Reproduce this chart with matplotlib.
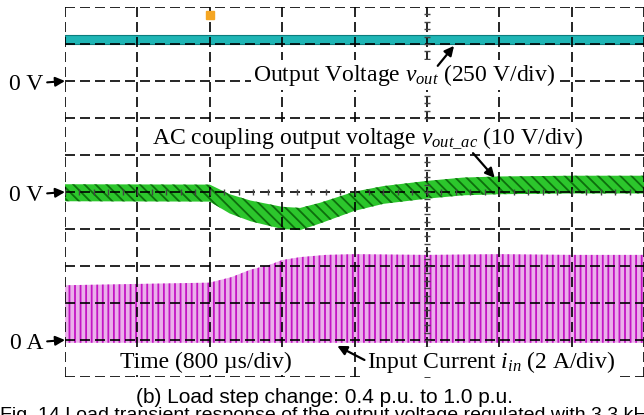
import numpy as np
import matplotlib.pyplot as plt

plt.rcParams['font.family'] = 'Liberation Serif'
plt.rcParams['mathtext.fontset'] = 'custom'
plt.rcParams['mathtext.rm'] = 'Liberation Serif'
plt.rcParams['mathtext.it'] = 'Liberation Serif:italic'
plt.rcParams['hatch.linewidth'] = 1.3

# scope screen: 0.8 ms per division, 10 divisions vertically (8 shown horizontally)
ms_per_div = 0.8
n_xdiv = 8
n_ydiv = 10

# channel zero markers (in divisions) and scales (units per division)
vout_zero, vout_scale = 8.0, 250.0
vac_zero, vac_scale = 5.0, 10.0
iin_zero, iin_scale = 1.0, 2.0

# output voltage (V), thin noisy band
vout_t = [0.0, 6.4]
vout_lo = [250, 250]
vout_hi = [312, 312]

# AC coupled output voltage (V): mean and peak-to-peak ripple
vac_t = [0.0, 1.6, 1.82, 2.05, 2.4, 2.6, 2.82, 3.2, 3.52, 4.0, 4.4, 4.8, 5.6, 6.4]
vac_mid = [-0.2, -0.3, -3.2, -5.1, -7.0, -7.3, -5.7, -2.5, -0.8, 0.6, 1.5, 1.8, 2.0, 2.0]
vac_pp = [4.6, 4.6, 5.2, 5.6, 6.0, 6.0, 5.6, 5.2, 4.8, 4.8, 4.8, 4.8, 4.8, 4.8]

# input current (A): peak envelope and valley
iin_t = [0.0, 1.6, 1.84, 2.05, 2.26, 2.4, 2.6, 2.88, 3.2, 4.0, 4.8, 5.6, 6.4]
iin_peak = [2.96, 3.1, 3.4, 3.8, 4.06, 4.32, 4.48, 4.6, 4.64, 4.6, 4.64, 4.6, 4.6]
iin_valley = [-0.15] * len(iin_t)

trigger_t = 1.6

fig = plt.figure(figsize=(6.44, 4.15), dpi=100)
ax = fig.add_axes([65 / 644, 38 / 415, 579 / 644, 370 / 415])

# cyan trace
ax.fill_between(vout_t, vout_zero + np.array(vout_lo) / vout_scale,
                vout_zero + np.array(vout_hi) / vout_scale,
                facecolor='#1fb5b5', edgecolor='#0b7d7d', linewidth=0.8, zorder=1)

# green trace
mid = np.array(vac_mid)
half = np.array(vac_pp) / 2
ax.fill_between(vac_t, vac_zero + (mid - half) / vac_scale, vac_zero + (mid + half) / vac_scale,
                facecolor='#2cc62c', edgecolor='#0d6e0d', hatch='\\\\\\', linewidth=0, zorder=1)

# magenta trace
ax.fill_between(iin_t, iin_zero + np.array(iin_valley) / iin_scale,
                iin_zero + np.array(iin_peak) / iin_scale,
                facecolor='#eab0ea', edgecolor='#c414c4', hatch='|||', linewidth=0, zorder=1)

# grid over the traces
dash = (0, (6, 3))
for i in range(n_xdiv + 1):
    ax.axvline(i * ms_per_div, color='k', lw=1.2, ls=dash, zorder=2.5)
for j in range(n_ydiv + 1):
    ax.axhline(j, color='k', lw=1.2, ls=dash, zorder=2.5)
# minor ticks on the centre lines
xt = np.arange(0, 6.41, 0.16)
ax.plot(xt, [5] * len(xt), ls='none', marker='|', ms=5, color='#444444', zorder=2.6)
yt = np.arange(0, 10, 0.2)
ax.plot([5 * ms_per_div] * len(yt), yt, ls='none', marker='_', ms=5, color='#444444', zorder=2.6)

ax.plot([trigger_t], [9.78], marker='s', ms=6, color='#f5a623', zorder=3)

ax.set_xlim(0, n_xdiv * ms_per_div)
ax.set_ylim(0, n_ydiv)
ax.set_xticks([])
ax.set_yticks([])
for s in ax.spines.values():
    s.set_visible(False)

# zero markers
arrow = dict(arrowstyle='-|>', color='k', lw=1.5, mutation_scale=14, shrinkA=1, shrinkB=0)
for lab, yz in [('0 V', vout_zero), ('0 V', vac_zero), ('0 A', iin_zero)]:
    ax.annotate(lab, xy=(0, yz), xytext=(-22, -3), textcoords='offset pixels',
                ha='right', va='center', fontsize=17, arrowprops=arrow, annotation_clip=False)

box = dict(facecolor='white', edgecolor='none', pad=1.5)
ax.text(2.08, 8.0, 'Output Voltage $v_{out}$ (250 V/div)', fontsize=17, ha='left',
        va='baseline', bbox=box, zorder=3)
ax.text(0.96, 6.3, r'AC coupling output voltage $v_{out\_ac}$ (10 V/div)', fontsize=17,
        ha='left', va='baseline', bbox=box, zorder=3)
ax.text(0.61, 0.24, 'Time (800 \u00b5s/div)', fontsize=17, ha='left', va='baseline',
        bbox=box, zorder=3)
ax.text(3.34, 0.24, 'Input Current $i_{in}$ (2 A/div)', fontsize=17, ha='left',
        va='baseline', bbox=box, zorder=3)

arr2 = dict(arrowstyle='-|>', color='k', lw=1.6, mutation_scale=14, shrinkA=0, shrinkB=0)
ax.annotate('', xy=(4.30, 8.95), xytext=(4.12, 8.41), arrowprops=arr2)
ax.annotate('', xy=(4.75, 5.38), xytext=(4.51, 6.05), arrowprops=arr2)
ax.annotate('', xy=(3.01, 0.84), xytext=(3.31, 0.46), arrowprops=arr2, annotation_clip=False)

fig.text(325 / 644, 1 - 397 / 415, '(b) Load step change: 0.4 p.u. to 1.0 p.u.',
         family='Liberation Sans', fontsize=15, ha='center', va='center')
fig.text(0.0, -0.012, 'Fig. 14 Load transient response of the output voltage regulated with 3.3 kHz',
         family='Liberation Sans', fontsize=14, ha='left', va='baseline')

fig.savefig('out.png', dpi=100)
